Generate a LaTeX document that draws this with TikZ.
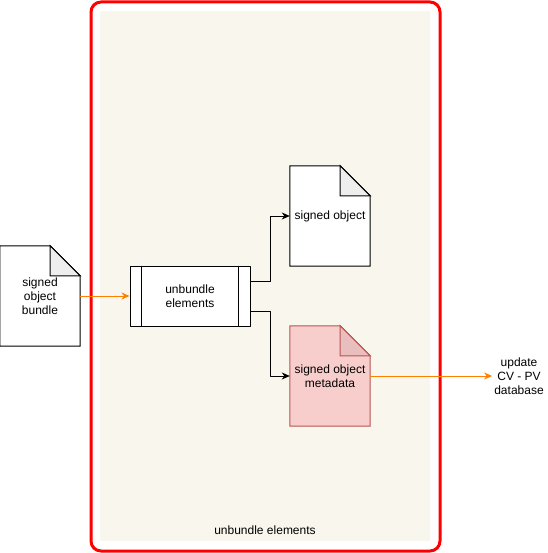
\documentclass[tikz,border=0pt]{standalone}
\usepackage{fontspec}
\setmainfont{Liberation Sans}
\usetikzlibrary{calc,positioning,arrows.meta,backgrounds}
\definecolor{grpfill}{HTML}{F9F7ED}
\definecolor{metafill}{HTML}{F8CECC}
\definecolor{metaline}{HTML}{B85450}
\definecolor{metafold}{HTML}{E8BFBE}
\definecolor{docfold}{HTML}{EEEEEE}
\definecolor{flowor}{HTML}{FF8000}
\tikzset{
  doc/.style={minimum width=80pt,minimum height=100pt,inner sep=0pt,align=center},
  proc/.style={draw,line width=1pt,fill=white,minimum width=120pt,minimum height=60pt,inner sep=0pt,align=center},
  flow/.style={line width=1pt,-{Stealth[length=8pt,width=7pt,inset=2.5pt]}},
}

\begin{document}
\begin{tikzpicture}[x=1pt,y=-1pt,line join=round,font=\fontsize{12}{14}\selectfont]
\useasboundingbox (0,0) rectangle (547,553);
% documents and process
\node[doc] (bundle) at (40,296) {signed\\object\\bundle};
\node[proc] (proc) at (190,296) {unbundle\\elements};
\node[doc] (sobj) at (330,216) {signed object};
\node[doc] (meta) at (330,376) {signed object\\metadata};
\node[align=center,inner sep=2pt] (upd) at (519,376) {update\\CV - PV\\database};
\node (grp) at (265,530) {unbundle elements};
\draw[line width=1pt] ([xshift=12pt]proc.north west) -- ([xshift=12pt]proc.south west)
  ([xshift=-12pt]proc.north east) -- ([xshift=-12pt]proc.south east);
\begin{pgfonlayer}{background}
% group
\draw[red,line width=3pt,rounded corners=10pt] (91,2) rectangle (440,551);
\fill[grpfill] (100,11) rectangle (430,541);
\foreach \n/\fc/\lc/\kc in {bundle/white/black/docfold,sobj/white/black/docfold,meta/metafill/metaline/metafold}{
  \draw[line width=1pt,draw=\lc,fill=\fc] (\n.north west) -- ($(\n.north east)+(-30,0)$) -- ($(\n.north east)+(0,30)$) -- (\n.south east) -- (\n.south west) -- cycle;
  \draw[line width=1pt,draw=\lc,fill=\kc] ($(\n.north east)+(-30,0)$) -- ($(\n.north east)+(-30,30)$) -- ($(\n.north east)+(0,30)$) -- cycle;
}
\end{pgfonlayer}
% connectors
\draw[flow,flowor] (bundle.east) -- (proc.west);
\draw[flow] ([yshift=15pt]proc.east) -- ++(20,0) |- (sobj.west);
\draw[flow] ([yshift=-15pt]proc.east) -- ++(20,0) |- (meta.west);
\draw[flow,flowor] (meta.east) -- (upd.west);
\end{tikzpicture}
\end{document}
